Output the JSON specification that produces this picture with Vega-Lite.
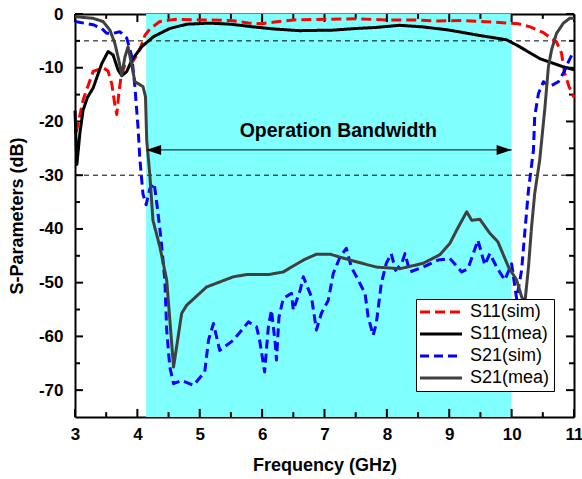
{
  "$schema": "https://vega.github.io/schema/vega-lite/v6.json",
  "width": 499,
  "height": 403,
  "autosize": "none",
  "padding": {"left": 75, "top": 14, "right": 8, "bottom": 62},
  "background": "white",
  "datasets": {
    "xmajor": [{"f": 3}, {"f": 4}, {"f": 5}, {"f": 6}, {"f": 7}, {"f": 8}, {"f": 9}, {"f": 10}, {"f": 11}],
    "xminor": [{"f": 3.5}, {"f": 4.5}, {"f": 5.5}, {"f": 6.5}, {"f": 7.5}, {"f": 8.5}, {"f": 9.5}, {"f": 10.5}],
    "ymajor": [{"db": 0}, {"db": -10}, {"db": -20}, {"db": -30}, {"db": -40}, {"db": -50}, {"db": -60}, {"db": -70}],
    "yminor": [{"db": -5}, {"db": -15}, {"db": -25}, {"db": -35}, {"db": -45}, {"db": -55}, {"db": -65}]
  },
  "config": {
    "view": {"stroke": null},
    "font": "Liberation Sans",
    "axis": {
      "zindex": 1,
      "domain": true,
      "domainColor": "black",
      "domainWidth": 2,
      "grid": false,
      "ticks": false,
      "labels": false,
      "labelFlush": false,
      "title": null,
      "labelFont": "Liberation Sans",
      "labelFontWeight": "bold",
      "labelFontSize": 17,
      "labelColor": "black",
      "titleFont": "Liberation Sans",
      "titleFontWeight": "bold",
      "titleFontSize": 18,
      "titleColor": "black"
    }
  },
  "layer": [
    {
      "data": {"values": [{"lo": 4.14, "hi": 10.0}]},
      "mark": {"type": "rect", "fill": "#80ffff"},
      "encoding": {
        "x": {
          "field": "lo", "type": "quantitative",
          "scale": {"domain": [3, 11], "nice": false, "zero": false},
          "axis": {
            "orient": "bottom",
            "labels": true,
            "values": [3, 4, 5, 6, 7, 8, 9, 10, 11],
            "labelPadding": 9,
            "labelExpr": "'' + datum.value",
            "title": "Frequency (GHz)",
            "titleBaseline": "alphabetic",
            "titleY": 53
          }
        },
        "x2": {"field": "hi"}
      }
    },
    {
      "data": {"name": "xmajor"},
      "mark": {"type": "rule", "color": "black", "strokeWidth": 2},
      "encoding": {
        "x": {"field": "f", "type": "quantitative", "axis": null},
        "y": {"datum": -75, "type": "quantitative", "scale": {"domain": [-75, 0], "nice": false, "zero": false}, "axis": null},
        "y2": {"datum": -73.5}
      }
    },
    {
      "data": {"name": "xmajor"},
      "mark": {"type": "rule", "color": "black", "strokeWidth": 2},
      "encoding": {
        "x": {"field": "f", "type": "quantitative", "axis": null},
        "y": {"datum": 0, "type": "quantitative", "axis": null},
        "y2": {"datum": -1.5}
      }
    },
    {
      "data": {"name": "xminor"},
      "mark": {"type": "rule", "color": "black", "strokeWidth": 2},
      "encoding": {
        "x": {"field": "f", "type": "quantitative", "axis": null},
        "y": {"datum": -75, "type": "quantitative", "axis": null},
        "y2": {"datum": -74.1}
      }
    },
    {
      "data": {"name": "xminor"},
      "mark": {"type": "rule", "color": "black", "strokeWidth": 2},
      "encoding": {
        "x": {"field": "f", "type": "quantitative", "axis": null},
        "y": {"datum": 0, "type": "quantitative", "axis": null},
        "y2": {"datum": -0.9}
      }
    },
    {
      "data": {"name": "ymajor"},
      "mark": {"type": "rule", "color": "black", "strokeWidth": 2},
      "encoding": {
        "x": {"datum": 3, "type": "quantitative", "axis": null},
        "x2": {"datum": 3.128},
        "y": {"field": "db", "type": "quantitative", "axis": null}
      }
    },
    {
      "data": {"name": "ymajor"},
      "mark": {"type": "rule", "color": "black", "strokeWidth": 2},
      "encoding": {
        "x": {"datum": 11, "type": "quantitative", "axis": null},
        "x2": {"datum": 10.872},
        "y": {"field": "db", "type": "quantitative", "axis": null}
      }
    },
    {
      "data": {"name": "yminor"},
      "mark": {"type": "rule", "color": "black", "strokeWidth": 2},
      "encoding": {
        "x": {"datum": 3, "type": "quantitative", "axis": null},
        "x2": {"datum": 3.08},
        "y": {"field": "db", "type": "quantitative", "axis": null}
      }
    },
    {
      "data": {"name": "yminor"},
      "mark": {"type": "rule", "color": "black", "strokeWidth": 2},
      "encoding": {
        "x": {"datum": 11, "type": "quantitative", "axis": null},
        "x2": {"datum": 10.92},
        "y": {"field": "db", "type": "quantitative", "axis": null}
      }
    },
    {
      "data": {"values": [{"from": 3, "to": 11, "level": -5}, {"from": 3, "to": 11, "level": -30}]},
      "mark": {"type": "rule", "color": "black", "strokeWidth": 1, "strokeDash": [5, 4]},
      "encoding": {
        "x": {"field": "from", "type": "quantitative", "axis": null},
        "x2": {"field": "to"},
        "y": {
          "field": "level", "type": "quantitative",
          "axis": {
            "orient": "left",
            "labels": true,
            "values": [0, -10, -20, -30, -40, -50, -60, -70],
            "labelPadding": 12,
            "labelExpr": "'' + datum.value",
            "title": "S-Parameters (dB)",
            "titleBaseline": "alphabetic",
            "titleX": -53
          }
        }
      }
    },
    {
      "data": {
        "values": [
          {"series": "S11(sim)", "f": 3.02, "db": -22},
          {"series": "S11(sim)", "f": 3.13, "db": -16},
          {"series": "S11(sim)", "f": 3.29, "db": -10.7},
          {"series": "S11(sim)", "f": 3.45, "db": -10},
          {"series": "S11(sim)", "f": 3.53, "db": -10.6},
          {"series": "S11(sim)", "f": 3.59, "db": -13},
          {"series": "S11(sim)", "f": 3.64, "db": -17},
          {"series": "S11(sim)", "f": 3.67, "db": -18.7},
          {"series": "S11(sim)", "f": 3.7, "db": -15},
          {"series": "S11(sim)", "f": 3.74, "db": -11.5},
          {"series": "S11(sim)", "f": 3.8, "db": -9.5},
          {"series": "S11(sim)", "f": 3.91, "db": -9.1},
          {"series": "S11(sim)", "f": 4.0, "db": -7.5},
          {"series": "S11(sim)", "f": 4.06, "db": -6},
          {"series": "S11(sim)", "f": 4.12, "db": -4},
          {"series": "S11(sim)", "f": 4.2, "db": -2.8},
          {"series": "S11(sim)", "f": 4.36, "db": -1.4},
          {"series": "S11(sim)", "f": 4.6, "db": -1.0},
          {"series": "S11(sim)", "f": 5.0, "db": -1.1},
          {"series": "S11(sim)", "f": 5.5, "db": -1.2},
          {"series": "S11(sim)", "f": 5.8, "db": -1.7},
          {"series": "S11(sim)", "f": 6.0, "db": -1.8},
          {"series": "S11(sim)", "f": 6.2, "db": -1.5},
          {"series": "S11(sim)", "f": 6.5, "db": -1.1},
          {"series": "S11(sim)", "f": 7.0, "db": -1.0},
          {"series": "S11(sim)", "f": 7.5, "db": -0.9},
          {"series": "S11(sim)", "f": 8.0, "db": -1.1},
          {"series": "S11(sim)", "f": 8.4, "db": -1.1},
          {"series": "S11(sim)", "f": 8.8, "db": -1.3},
          {"series": "S11(sim)", "f": 9.2, "db": -1.2},
          {"series": "S11(sim)", "f": 9.7, "db": -1.5},
          {"series": "S11(sim)", "f": 10.1, "db": -1.8},
          {"series": "S11(sim)", "f": 10.3, "db": -2.4},
          {"series": "S11(sim)", "f": 10.5, "db": -3.4},
          {"series": "S11(sim)", "f": 10.72, "db": -5.2},
          {"series": "S11(sim)", "f": 10.8, "db": -7.3},
          {"series": "S11(sim)", "f": 10.85, "db": -11},
          {"series": "S11(sim)", "f": 10.92, "db": -13.5},
          {"series": "S11(sim)", "f": 11.0, "db": -15.5},

          {"series": "S11(mea)", "f": 3.0, "db": -18},
          {"series": "S11(mea)", "f": 3.03, "db": -28},
          {"series": "S11(mea)", "f": 3.08, "db": -22},
          {"series": "S11(mea)", "f": 3.13, "db": -17.9},
          {"series": "S11(mea)", "f": 3.2, "db": -15.5},
          {"series": "S11(mea)", "f": 3.29, "db": -13.8},
          {"series": "S11(mea)", "f": 3.36, "db": -11.5},
          {"series": "S11(mea)", "f": 3.43, "db": -9.2},
          {"series": "S11(mea)", "f": 3.53, "db": -7.0},
          {"series": "S11(mea)", "f": 3.61, "db": -7.6},
          {"series": "S11(mea)", "f": 3.69, "db": -10.4},
          {"series": "S11(mea)", "f": 3.75, "db": -11.5},
          {"series": "S11(mea)", "f": 3.83, "db": -10.7},
          {"series": "S11(mea)", "f": 3.91, "db": -8.6},
          {"series": "S11(mea)", "f": 4.07, "db": -6.1},
          {"series": "S11(mea)", "f": 4.26, "db": -4.2},
          {"series": "S11(mea)", "f": 4.52, "db": -2.7},
          {"series": "S11(mea)", "f": 4.79, "db": -1.9},
          {"series": "S11(mea)", "f": 5.16, "db": -1.7},
          {"series": "S11(mea)", "f": 5.5, "db": -1.9},
          {"series": "S11(mea)", "f": 5.86, "db": -2.4},
          {"series": "S11(mea)", "f": 6.2, "db": -2.8},
          {"series": "S11(mea)", "f": 6.6, "db": -3.1},
          {"series": "S11(mea)", "f": 7.14, "db": -3.0},
          {"series": "S11(mea)", "f": 7.5, "db": -2.7},
          {"series": "S11(mea)", "f": 7.83, "db": -2.5},
          {"series": "S11(mea)", "f": 8.2, "db": -2.1},
          {"series": "S11(mea)", "f": 8.58, "db": -2.4},
          {"series": "S11(mea)", "f": 9.0, "db": -3.0},
          {"series": "S11(mea)", "f": 9.49, "db": -4.0},
          {"series": "S11(mea)", "f": 9.92, "db": -4.8},
          {"series": "S11(mea)", "f": 10.13, "db": -6.1},
          {"series": "S11(mea)", "f": 10.45, "db": -8.3},
          {"series": "S11(mea)", "f": 10.82, "db": -9.8},
          {"series": "S11(mea)", "f": 11.0, "db": -10.4},

          {"series": "S21(sim)", "f": 3.0, "db": -1.4},
          {"series": "S21(sim)", "f": 3.29, "db": -2.0},
          {"series": "S21(sim)", "f": 3.43, "db": -2.7},
          {"series": "S21(sim)", "f": 3.51, "db": -3.6},
          {"series": "S21(sim)", "f": 3.61, "db": -3.6},
          {"series": "S21(sim)", "f": 3.72, "db": -3.3},
          {"series": "S21(sim)", "f": 3.83, "db": -4.5},
          {"series": "S21(sim)", "f": 3.91, "db": -7.9},
          {"series": "S21(sim)", "f": 3.96, "db": -13.5},
          {"series": "S21(sim)", "f": 4.01, "db": -21},
          {"series": "S21(sim)", "f": 4.04, "db": -27},
          {"series": "S21(sim)", "f": 4.09, "db": -33.5},
          {"series": "S21(sim)", "f": 4.14, "db": -35.5},
          {"series": "S21(sim)", "f": 4.2, "db": -32.5},
          {"series": "S21(sim)", "f": 4.27, "db": -31.5},
          {"series": "S21(sim)", "f": 4.33, "db": -37},
          {"series": "S21(sim)", "f": 4.38, "db": -42},
          {"series": "S21(sim)", "f": 4.44, "db": -49.5},
          {"series": "S21(sim)", "f": 4.47, "db": -58.8},
          {"series": "S21(sim)", "f": 4.52, "db": -65.7},
          {"series": "S21(sim)", "f": 4.58, "db": -68.8},
          {"series": "S21(sim)", "f": 4.71, "db": -68.2},
          {"series": "S21(sim)", "f": 4.9, "db": -69.1},
          {"series": "S21(sim)", "f": 5.08, "db": -66.6},
          {"series": "S21(sim)", "f": 5.14, "db": -60.7},
          {"series": "S21(sim)", "f": 5.22, "db": -57.6},
          {"series": "S21(sim)", "f": 5.32, "db": -62.6},
          {"series": "S21(sim)", "f": 5.54, "db": -60.7},
          {"series": "S21(sim)", "f": 5.78, "db": -57.3},
          {"series": "S21(sim)", "f": 5.91, "db": -58.2},
          {"series": "S21(sim)", "f": 5.96, "db": -60.7},
          {"series": "S21(sim)", "f": 6.04, "db": -66.6},
          {"series": "S21(sim)", "f": 6.1, "db": -58.2},
          {"series": "S21(sim)", "f": 6.15, "db": -55.1},
          {"series": "S21(sim)", "f": 6.21, "db": -61.3},
          {"series": "S21(sim)", "f": 6.23, "db": -64.4},
          {"series": "S21(sim)", "f": 6.27, "db": -56.4},
          {"series": "S21(sim)", "f": 6.34, "db": -52.9},
          {"series": "S21(sim)", "f": 6.47, "db": -52},
          {"series": "S21(sim)", "f": 6.5, "db": -55.1},
          {"series": "S21(sim)", "f": 6.61, "db": -51.4},
          {"series": "S21(sim)", "f": 6.66, "db": -48.9},
          {"series": "S21(sim)", "f": 6.79, "db": -52.6},
          {"series": "S21(sim)", "f": 6.87, "db": -58.8},
          {"series": "S21(sim)", "f": 6.95, "db": -55.7},
          {"series": "S21(sim)", "f": 7.06, "db": -53.3},
          {"series": "S21(sim)", "f": 7.14, "db": -48.3},
          {"series": "S21(sim)", "f": 7.25, "db": -45.2},
          {"series": "S21(sim)", "f": 7.35, "db": -43.6},
          {"series": "S21(sim)", "f": 7.43, "db": -47.1},
          {"series": "S21(sim)", "f": 7.54, "db": -49.5},
          {"series": "S21(sim)", "f": 7.65, "db": -52},
          {"series": "S21(sim)", "f": 7.7, "db": -56.4},
          {"series": "S21(sim)", "f": 7.78, "db": -59.8},
          {"series": "S21(sim)", "f": 7.83, "db": -57.6},
          {"series": "S21(sim)", "f": 7.91, "db": -50.2},
          {"series": "S21(sim)", "f": 7.99, "db": -46.4},
          {"series": "S21(sim)", "f": 8.07, "db": -44.6},
          {"series": "S21(sim)", "f": 8.14, "db": -47.7},
          {"series": "S21(sim)", "f": 8.24, "db": -46.4},
          {"series": "S21(sim)", "f": 8.29, "db": -44.6},
          {"series": "S21(sim)", "f": 8.37, "db": -48},
          {"series": "S21(sim)", "f": 8.58, "db": -47.1},
          {"series": "S21(sim)", "f": 8.82, "db": -45.8},
          {"series": "S21(sim)", "f": 9.01, "db": -45.5},
          {"series": "S21(sim)", "f": 9.2, "db": -48},
          {"series": "S21(sim)", "f": 9.3, "db": -47.4},
          {"series": "S21(sim)", "f": 9.46, "db": -42.1},
          {"series": "S21(sim)", "f": 9.57, "db": -46.7},
          {"series": "S21(sim)", "f": 9.65, "db": -44.6},
          {"series": "S21(sim)", "f": 9.76, "db": -47.1},
          {"series": "S21(sim)", "f": 9.89, "db": -49.5},
          {"series": "S21(sim)", "f": 10.0, "db": -46.5},
          {"series": "S21(sim)", "f": 10.08, "db": -53},
          {"series": "S21(sim)", "f": 10.16, "db": -47.7},
          {"series": "S21(sim)", "f": 10.21, "db": -40.8},
          {"series": "S21(sim)", "f": 10.27, "db": -32.8},
          {"series": "S21(sim)", "f": 10.35, "db": -25.3},
          {"series": "S21(sim)", "f": 10.37, "db": -19.1},
          {"series": "S21(sim)", "f": 10.43, "db": -14.8},
          {"series": "S21(sim)", "f": 10.51, "db": -12.6},
          {"series": "S21(sim)", "f": 10.61, "db": -13.5},
          {"series": "S21(sim)", "f": 10.75, "db": -12.6},
          {"series": "S21(sim)", "f": 10.83, "db": -11.0},
          {"series": "S21(sim)", "f": 10.91, "db": -8.9},
          {"series": "S21(sim)", "f": 10.97, "db": -7.5},

          {"series": "S21(mea)", "f": 3.0, "db": -0.5},
          {"series": "S21(mea)", "f": 3.29, "db": -0.8},
          {"series": "S21(mea)", "f": 3.45, "db": -1.4},
          {"series": "S21(mea)", "f": 3.56, "db": -3.0},
          {"series": "S21(mea)", "f": 3.64, "db": -5.5},
          {"series": "S21(mea)", "f": 3.7, "db": -8.5},
          {"series": "S21(mea)", "f": 3.75, "db": -11.4},
          {"series": "S21(mea)", "f": 3.8, "db": -8},
          {"series": "S21(mea)", "f": 3.85, "db": -6.1},
          {"series": "S21(mea)", "f": 3.91, "db": -9.5},
          {"series": "S21(mea)", "f": 3.96, "db": -12.6},
          {"series": "S21(mea)", "f": 4.09, "db": -13.5},
          {"series": "S21(mea)", "f": 4.13, "db": -15.4},
          {"series": "S21(mea)", "f": 4.15, "db": -23.5},
          {"series": "S21(mea)", "f": 4.2, "db": -30},
          {"series": "S21(mea)", "f": 4.25, "db": -38.4},
          {"series": "S21(mea)", "f": 4.36, "db": -43.3},
          {"series": "S21(mea)", "f": 4.47, "db": -49.5},
          {"series": "S21(mea)", "f": 4.58, "db": -65.7},
          {"series": "S21(mea)", "f": 4.71, "db": -55.7},
          {"series": "S21(mea)", "f": 4.79, "db": -54.2},
          {"series": "S21(mea)", "f": 5.11, "db": -50.8},
          {"series": "S21(mea)", "f": 5.54, "db": -48.9},
          {"series": "S21(mea)", "f": 5.75, "db": -48.5},
          {"series": "S21(mea)", "f": 6.1, "db": -48.5},
          {"series": "S21(mea)", "f": 6.34, "db": -48},
          {"series": "S21(mea)", "f": 6.66, "db": -45.8},
          {"series": "S21(mea)", "f": 6.87, "db": -44.7},
          {"series": "S21(mea)", "f": 7.09, "db": -44.7},
          {"series": "S21(mea)", "f": 7.41, "db": -45.8},
          {"series": "S21(mea)", "f": 7.83, "db": -47.1},
          {"series": "S21(mea)", "f": 8.21, "db": -47.4},
          {"series": "S21(mea)", "f": 8.58, "db": -46.4},
          {"series": "S21(mea)", "f": 8.85, "db": -44.8},
          {"series": "S21(mea)", "f": 9.01, "db": -42.7},
          {"series": "S21(mea)", "f": 9.12, "db": -40.2},
          {"series": "S21(mea)", "f": 9.28, "db": -36.8},
          {"series": "S21(mea)", "f": 9.36, "db": -38.4},
          {"series": "S21(mea)", "f": 9.49, "db": -38.2},
          {"series": "S21(mea)", "f": 9.65, "db": -40.8},
          {"series": "S21(mea)", "f": 9.78, "db": -42.4},
          {"series": "S21(mea)", "f": 9.95, "db": -47.1},
          {"series": "S21(mea)", "f": 10.08, "db": -49.5},
          {"series": "S21(mea)", "f": 10.16, "db": -52.6},
          {"series": "S21(mea)", "f": 10.21, "db": -54},
          {"series": "S21(mea)", "f": 10.27, "db": -47.1},
          {"series": "S21(mea)", "f": 10.32, "db": -39.6},
          {"series": "S21(mea)", "f": 10.37, "db": -33.4},
          {"series": "S21(mea)", "f": 10.45, "db": -27.2},
          {"series": "S21(mea)", "f": 10.53, "db": -17.9},
          {"series": "S21(mea)", "f": 10.59, "db": -9.8},
          {"series": "S21(mea)", "f": 10.64, "db": -6.7},
          {"series": "S21(mea)", "f": 10.72, "db": -3.6},
          {"series": "S21(mea)", "f": 10.83, "db": -1.7},
          {"series": "S21(mea)", "f": 10.93, "db": -0.8},
          {"series": "S21(mea)", "f": 11.0, "db": -0.8}
        ]
      },
      "mark": {"type": "line", "strokeWidth": 3, "strokeCap": "butt", "strokeJoin": "round"},
      "encoding": {
        "x": {"field": "f", "type": "quantitative", "axis": null},
        "y": {"field": "db", "type": "quantitative", "axis": null},
        "color": {
          "field": "series", "type": "nominal",
          "scale": {
            "domain": ["S11(sim)", "S11(mea)", "S21(sim)", "S21(mea)"],
            "range": ["#ff0000", "#000000", "#0000ff", "#404040"]
          },
          "legend": {
            "orient": "none",
            "legendX": 341,
            "legendY": 285,
            "title": null,
            "symbolType": "M-3,0H3",
            "symbolSize": 196,
            "symbolStrokeWidth": 3,
            "symbolOffset": 12,
            "labelOffset": 20,
            "labelFont": "Liberation Sans",
            "labelFontSize": 18,
            "labelColor": "black",
            "strokeColor": "black",
            "fillColor": "white",
            "padding": 4,
            "rowPadding": 4
          }
        },
        "strokeDash": {
          "field": "series", "type": "nominal",
          "scale": {
            "domain": ["S11(sim)", "S11(mea)", "S21(sim)", "S21(mea)"],
            "range": [[10, 5], [1, 0], [9, 5], [1, 0]]
          }
        }
      }
    },
    {
      "data": {"values": [{"lo": 4.14, "hi": 10.0, "level": -25.3}]},
      "mark": {"type": "rule", "color": "#1c3c3c", "strokeWidth": 1.2},
      "encoding": {
        "x": {"field": "lo", "type": "quantitative", "axis": {"orient": "top"}},
        "x2": {"field": "hi"},
        "y": {"field": "level", "type": "quantitative", "axis": null}
      }
    },
    {
      "data": {"values": [{"at": 4.14, "level": -25.3}]},
      "mark": {"type": "point", "filled": true, "opacity": 1, "size": 225, "color": "black", "shape": "M0,0L2,-0.667L2,0.667Z"},
      "encoding": {
        "x": {"field": "at", "type": "quantitative", "axis": null},
        "y": {"field": "level", "type": "quantitative", "axis": {"orient": "right"}}
      }
    },
    {
      "data": {"values": [{"at": 10.0, "level": -25.3}]},
      "mark": {"type": "point", "filled": true, "opacity": 1, "size": 225, "color": "black", "shape": "M0,0L-2,-0.667L-2,0.667Z"},
      "encoding": {
        "x": {"field": "at", "type": "quantitative", "axis": null},
        "y": {"field": "level", "type": "quantitative", "axis": null}
      }
    },
    {
      "data": {"values": [{"at": 7.22, "level": -21.8, "label": "Operation Bandwidth"}]},
      "mark": {
        "type": "text",
        "font": "Liberation Sans",
        "fontWeight": "bold",
        "fontSize": 19.5,
        "color": "black",
        "baseline": "middle",
        "align": "center"
      },
      "encoding": {
        "x": {"field": "at", "type": "quantitative", "axis": null},
        "y": {"field": "level", "type": "quantitative", "axis": null},
        "text": {"field": "label"}
      }
    }
  ],
  "resolve": {"axis": {"x": "independent", "y": "independent"}}
}
